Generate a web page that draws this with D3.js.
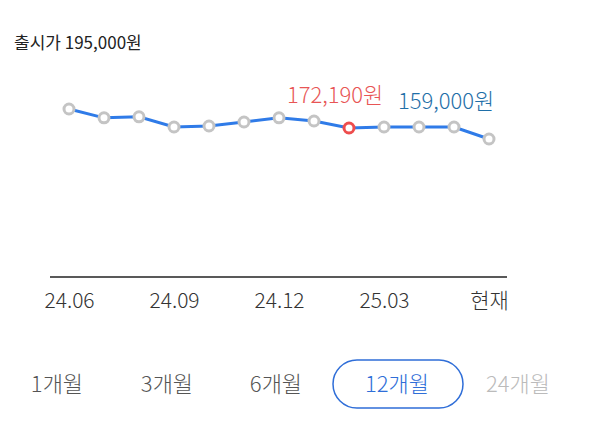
<!DOCTYPE html>
<html><head><meta charset="utf-8">
<script src="https://cdn.jsdelivr.net/npm/d3@7"></script>
<style>body{margin:0;background:#fff}text{font-family:"Noto Sans CJK KR","Noto Sans",sans-serif;font-weight:300}</style>
</head><body><svg id="c" width="590" height="442"></svg>
<script>
var months = ["24.06","24.07","24.08","24.09","24.10","24.11","24.12","25.01","25.02","25.03","25.04","25.05","현재"];
var prices = [195000,184400,185600,173400,174600,179400,184400,180600,172190,173400,173400,173400,159000];
var tickLabels = ["24.06","24.09","24.12","25.03","현재"];
var periods = ["1개월","3개월","6개월","12개월","24개월"];
var minIdx = 8;

var svg = d3.select("#c");
var x = d3.scalePoint().domain(months).range([69, 489]);
var y = d3.scaleLinear().domain([159000, 195000]).range([139, 109]);

svg.append("text").attr("x", 14).attr("y", 49).attr("font-size", 17).attr("fill", "#222").style("font-weight", 400).text("출시가 195,000원");

svg.append("path").datum(months.map(function(m, i){return [m, prices[i]];}))
  .attr("fill", "none").attr("stroke", "#2f7be8").attr("stroke-width", 3)
  .attr("d", d3.line().x(function(d){return x(d[0]);}).y(function(d){return y(d[1]);}));

svg.selectAll(".pt").data(months).enter().append("circle")
  .attr("cx", function(d){return x(d);}).attr("cy", function(d, i){return y(prices[i]);})
  .attr("r", 5).attr("fill", "#fff").attr("stroke-width", 3)
  .attr("stroke", function(d, i){return i === minIdx ? "#ee4d4d" : "#c4c4c4";});

svg.append("text").attr("x", 287).attr("y", 103).attr("font-size", 22)
  .attr("fill", "#e85555").text(d3.format(",")(prices[minIdx]) + "원");
svg.append("rect").attr("x", 395).attr("y", 82).attr("width", 160).attr("height", 36).attr("fill", "#fff");
svg.append("text").attr("x", 398).attr("y", 109).attr("font-size", 22)
  .attr("fill", "#1f6fa8").text(d3.format(",")(prices[prices.length - 1]) + "원");

var axis = d3.axisBottom(x).tickValues(tickLabels).tickSize(0).tickPadding(16);
var g = svg.append("g").attr("transform", "translate(0,277)").call(axis);
g.select(".domain").attr("d", "M50,0H507").attr("stroke", "#222").attr("stroke-width", 1.5);
g.selectAll("text").attr("font-size", 21).attr("fill", "#333").style("font-family", '"Noto Sans CJK KR",sans-serif').style("font-weight", 300);

var px = [57, 167, 276, 397, 518];
svg.append("rect").attr("x", 333).attr("y", 360).attr("width", 130).attr("height", 48).attr("rx", 24)
  .attr("fill", "#fff").attr("stroke", "#2f6ed8").attr("stroke-width", 1.5);
svg.selectAll(".per").data(periods).enter().append("text")
  .attr("x", function(d, i){return px[i];}).attr("y", 392).attr("text-anchor", "middle").attr("font-size", 22)
  .attr("fill", function(d, i){return i === 3 ? "#2f6ed8" : i === 4 ? "#bbb" : "#555";}).text(function(d){return d;});
</script></body></html>
